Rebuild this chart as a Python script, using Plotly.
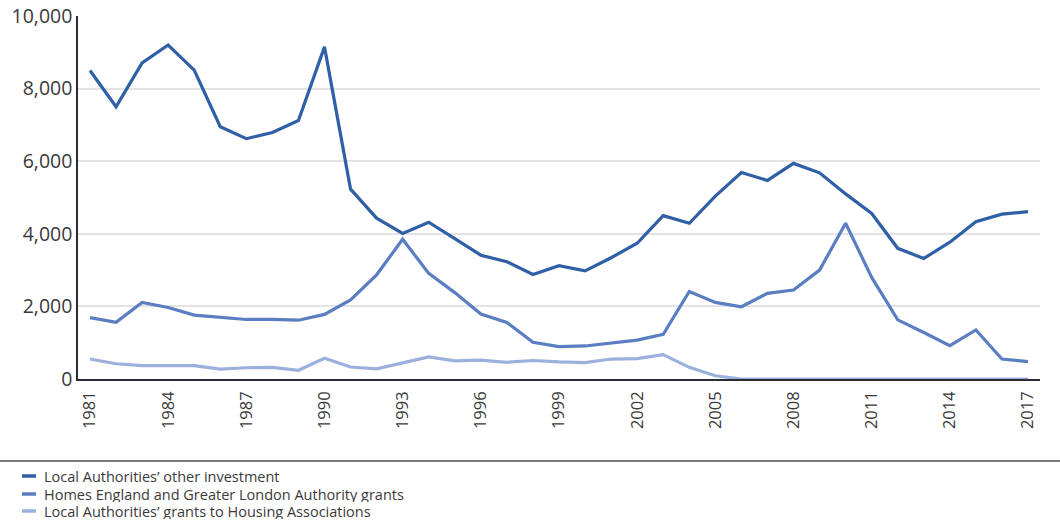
import plotly.graph_objects as go

years = list(range(1981, 2018))

la_other_investment = [
    8500, 7500, 8710, 9200, 8510, 6950, 6620, 6790, 7120, 9150,
    5230, 4430, 4010, 4320, 3870, 3410, 3230, 2880, 3120, 2980,
    3340, 3740, 4500, 4290, 5040, 5690, 5470, 5940, 5680, 5100,
    4560, 3600, 3320, 3770, 4330, 4540, 4610,
]
he_gla_grants = [
    1690, 1560, 2110, 1970, 1760, 1710, 1640, 1640, 1620, 1780,
    2180, 2870, 3850, 2910, 2380, 1790, 1560, 1010, 890, 910,
    1000, 1070, 1230, 2410, 2110, 1990, 2360, 2450, 3000, 4290,
    2800, 1630, 1280, 920, 1350, 550, 480,
]
la_grants_to_ha = [
    550, 420, 370, 370, 370, 270, 310, 320, 240, 570,
    330, 280, 450, 610, 500, 520, 460, 510, 470, 450,
    550, 560, 670, 320, 90, 0, 0, 0, 0, 0,
    0, 0, 0, 0, 0, 0, 0,
]

series_names = [
    "Local Authorities\u2019 other investment",
    "Homes England and Greater London Authority grants",
    "Local Authorities\u2019 grants to Housing Associations",
]
series_colors = ["#2f5fa6", "#5b7ec2", "#9bb0dd"]

y_ticks = [0, 2000, 4000, 6000, 8000, 10000]
x_ticks = list(range(1981, 2018, 3))

FONT = "Open Sans"
TEXT = "#3a3a3a"

# plot-area geometry in pixels (used to place the key below the chart)
ML, MR, MT, MB = 78, 20, 16, 144
W, H = 1060, 523
PLOT_W, PLOT_H = W - ML - MR, H - MT - MB


def px_x(px):
    return (px - ML) / PLOT_W


def px_y(py):
    return (H - MB - py) / PLOT_H


fig = go.Figure()
for name, vals, col in zip(series_names,
                           [la_other_investment, he_gla_grants, la_grants_to_ha],
                           series_colors):
    fig.add_trace(go.Scatter(
        x=years, y=vals, name=name, mode="lines",
        line=dict(color=col, width=3.2),
        showlegend=False,
    ))

fig.update_layout(
    width=W, height=H,
    margin=dict(l=ML, r=MR, t=MT, b=MB, autoexpand=False),
    paper_bgcolor="white", plot_bgcolor="white",
    font=dict(family=FONT, color=TEXT),
)

fig.update_xaxes(
    range=[1980.54, 2017.46],
    tickmode="array", tickvals=x_ticks, ticktext=[str(y) for y in x_ticks],
    tickangle=-90, tickfont=dict(size=16.5, color=TEXT),
    ticklabelstandoff=4,
    showgrid=False, zeroline=False,
    showline=True, linecolor="#2b2b33", linewidth=1.5,
    ticks="", ticklen=0,
)
fig.update_yaxes(
    range=[0, 10000],
    tickmode="array", tickvals=y_ticks,
    tickformat=",", tickfont=dict(size=19.5, color=TEXT),
    showgrid=True, gridcolor="#e3e3e3", gridwidth=1.5,
    zeroline=False,
    showline=True, linecolor="#2b2b33", linewidth=1.5,
    ticks="", ticklen=0,
)

# Separator rule above the key
fig.add_shape(
    type="line", xref="paper", yref="paper",
    x0=px_x(0), x1=px_x(W), y0=px_y(461), y1=px_y(461),
    line=dict(color="#7a7a7a", width=2),
)

# Key: short coloured dash plus series name, one row per series
key_rows = [476, 494, 511]
for name, col, ry in zip(series_names, series_colors, key_rows):
    fig.add_shape(
        type="line", xref="paper", yref="paper",
        x0=px_x(22), x1=px_x(36), y0=px_y(ry), y1=px_y(ry),
        line=dict(color=col, width=3.5),
    )
    fig.add_annotation(
        text=name, xref="paper", yref="paper",
        x=px_x(43), y=px_y(ry), xanchor="left", yanchor="middle",
        height=16, borderpad=0, valign="middle",
        showarrow=False, font=dict(family=FONT, size=14.5, color=TEXT),
    )

fig.write_html("out.html")
